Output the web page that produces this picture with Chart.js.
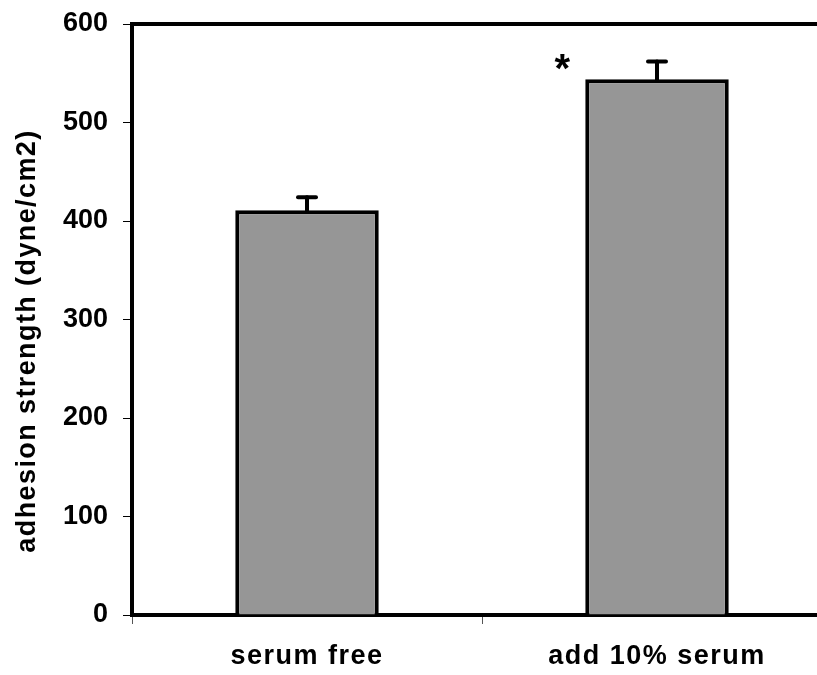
<!DOCTYPE html>
<html>
<head>
<meta charset="utf-8">
<title>Adhesion strength</title>
<script src="https://cdn.jsdelivr.net/npm/chart.js@4.4.1/dist/chart.umd.min.js"></script>
<style>
  html, body { margin: 0; padding: 0; background: #ffffff; overflow: hidden; }
  #wrap { position: relative; width: 836px; height: 675px; }
</style>
</head>
<body>
<div id="wrap"><canvas id="chart"></canvas></div>
<script>
// Mean adhesion strength per condition, with the upper error (SD) and significance mark
const categories = ['serum free', 'add 10% serum'];
const meanStrength = [411, 544];
const errorUpper = [13, 18];
const significance = ['', '*'];
const yAxisTitle = 'adhesion strength (dyne/cm2)';
const yMin = 0;
const yMax = 600;
const yStep = 100;

const FONT = "'Liberation Sans', Arial, Helvetica, sans-serif";
const TEXT_SIZE = 27;
const LABEL_SPACING = '1.5px';

// Category labels on the x axis are drawn with a little extra letter spacing
const spacingPlugin = {
  id: 'spacing',
  beforeDraw(chart) { chart.ctx.letterSpacing = '0px'; },
  afterLayout(chart) {
    const xs = chart.scales.x;
    if (xs && !xs._spaced) {
      const drawLabels = xs.drawLabels;
      xs.drawLabels = function (area) {
        const ctx = this.ctx;
        const prev = ctx.letterSpacing;
        ctx.letterSpacing = LABEL_SPACING;
        drawLabels.call(this, area);
        ctx.letterSpacing = prev;
      };
      xs._spaced = true;
    }
  }
};

// Upper error bars and significance marks above each bar
const errorBarPlugin = {
  id: 'errorBars',
  afterDatasetsDraw(chart) {
    const ctx = chart.ctx;
    const yScale = chart.scales.y;
    const meta = chart.getDatasetMeta(0);
    meta.data.forEach((bar, i) => {
      const base = yScale.getPixelForValue(meanStrength[i]);
      const top = yScale.getPixelForValue(meanStrength[i] + errorUpper[i]);
      ctx.save();
      ctx.strokeStyle = '#000000';
      ctx.lineCap = 'round';
      ctx.lineWidth = 4;
      ctx.beginPath();
      ctx.moveTo(bar.x, base);
      ctx.lineTo(bar.x, top);
      ctx.stroke();
      ctx.beginPath();
      ctx.moveTo(bar.x - 9, top);
      ctx.lineTo(bar.x + 9, top);
      ctx.stroke();
      if (significance[i]) {
        ctx.letterSpacing = '0px';
        ctx.fillStyle = '#000000';
        ctx.font = 'bold 40px ' + FONT;
        ctx.textAlign = 'center';
        ctx.textBaseline = 'alphabetic';
        ctx.fillText(significance[i], bar.x - bar.width / 2 - 23, top + 21);
      }
      ctx.restore();
    });
  }
};

// Rotated y-axis title, set slightly below the axis midpoint
const yTitlePlugin = {
  id: 'yTitle',
  afterDraw(chart) {
    const ctx = chart.ctx;
    const area = chart.chartArea;
    ctx.save();
    ctx.letterSpacing = '1.4px';
    ctx.fillStyle = '#000000';
    ctx.font = 'bold ' + TEXT_SIZE + 'px ' + FONT;
    ctx.textAlign = 'center';
    ctx.textBaseline = 'middle';
    ctx.translate(28, (area.top + area.bottom) / 2 + 21.5);
    ctx.rotate(-Math.PI / 2);
    ctx.fillText(yAxisTitle, 0, 0);
    ctx.restore();
  }
};

new Chart(document.getElementById('chart'), {
  type: 'bar',
  data: {
    labels: categories,
    datasets: [{
      data: meanStrength,
      backgroundColor: '#969696',
      borderColor: '#000000',
      borderWidth: 4,
      borderSkipped: 'start',
      categoryPercentage: 1.0,
      barPercentage: 0.41,
      xAxisID: 'x',
      yAxisID: 'y'
    }]
  },
  options: {
    responsive: true,
    maintainAspectRatio: false,
    animation: false,
    devicePixelRatio: 1,
    layout: { padding: { left: 0, right: 4, top: 0, bottom: 0 } },
    plugins: {
      legend: { display: false },
      tooltip: { enabled: false },
      title: { display: false }
    },
    scales: {
      x: {
        type: 'category',
        position: 'bottom',
        offset: true,
        grid: {
          display: true,
          offset: true,
          drawOnChartArea: false,
          drawTicks: true,
          tickLength: 9,
          color: '#555555',
          lineWidth: 1
        },
        border: { display: true, color: '#000000', width: 4 },
        ticks: {
          color: '#000000',
          font: { family: FONT, size: TEXT_SIZE, weight: 'bold' },
          padding: 16,
          maxRotation: 0,
          autoSkip: false
        },
        afterFit(scale) { scale.height = 60; }
      },
      x2: {
        type: 'category',
        position: 'top',
        labels: categories,
        offset: true,
        grid: { display: false, drawOnChartArea: false, drawTicks: false },
        border: { display: true, color: '#000000', width: 4 },
        ticks: { display: false },
        afterFit(scale) { scale.height = 24; }
      },
      y: {
        type: 'linear',
        position: 'left',
        min: yMin,
        max: yMax,
        grid: {
          display: true,
          drawOnChartArea: false,
          drawTicks: true,
          tickLength: 9,
          color: '#000000',
          lineWidth: 1
        },
        border: { display: true, color: '#000000', width: 4 },
        ticks: {
          stepSize: yStep,
          color: '#000000',
          font: { family: FONT, size: TEXT_SIZE, weight: 'bold' },
          padding: 15
        },
        afterFit(scale) {
          scale.width = 132;
          scale.paddingTop = 0;
          scale.paddingBottom = 0;
        }
      }
    }
  },
  plugins: [spacingPlugin, errorBarPlugin, yTitlePlugin]
});
</script>
</body>
</html>
